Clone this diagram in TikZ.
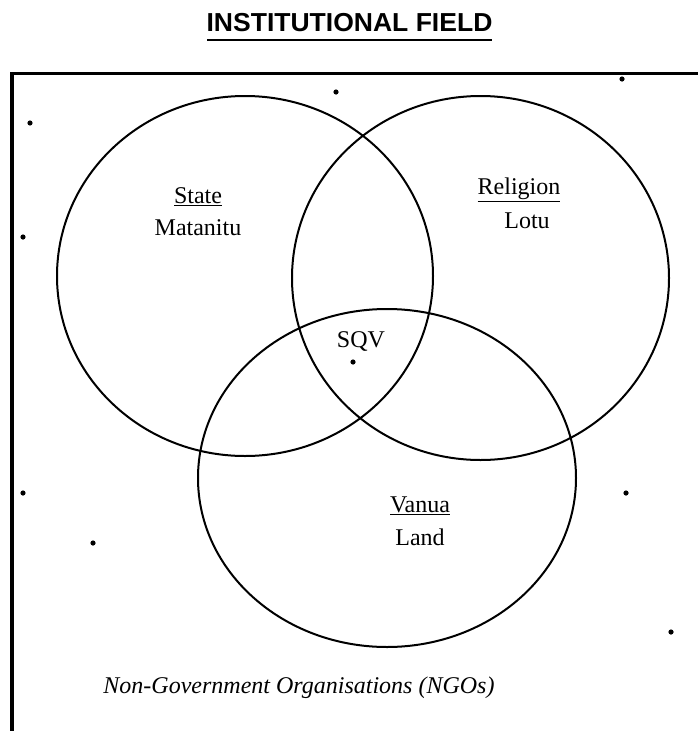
\documentclass[tikz,border=0pt]{standalone}
\usepackage{fontspec}
\setmainfont{Liberation Serif}
\newfontfamily\headfont{Liberation Sans}
\begin{document}
\begin{tikzpicture}[x=1pt,y=-1pt,
  field/.style={draw=black,line width=2pt},
  frameline/.style={draw=black,line width=3.8pt},
  lbl/.style={inner sep=0pt,font=\fontsize{24}{28}\selectfont},
  spot/.style={fill=black}]
\useasboundingbox (0,0) rectangle (698,731);

% title
\node[inner sep=0pt,xscale=1.02,font=\headfont\bfseries\fontsize{26}{30}\selectfont] (title) at (349.5,23) {INSTITUTIONAL FIELD};
\draw[line width=2pt] (207,40) -- (492,40);

% outer frame (top and left edges)
\coordinate (corner) at (12,73.5);
\coordinate (topend) at (698,73.5);
\coordinate (leftend) at (12,731);
\draw[frameline,line cap=rect] (topend) -- (corner) -- (leftend);

% the three spheres
\coordinate (cState) at (245,276);
\coordinate (cReligion) at (480.5,278);
\coordinate (cVanua) at (387,478);
\draw[field] (cState) ellipse [x radius=188, y radius=180];
\draw[field] (cReligion) ellipse [x radius=188.5, y radius=182];
\draw[field] (cVanua) ellipse [x radius=189, y radius=169];

% labels
\node[lbl] (state) at (198,197) {\underline{State}};
\node[lbl] (matanitu) at (198,228) {Matanitu};
\node[lbl] (religion) at (519,190) {\underline{Religion}};
\node[lbl] (lotu) at (527,221) {Lotu};
\node[lbl] (sqv) at (361,341) {SQV};
\node[lbl] (vanua) at (420,506) {\underline{Vanua}};
\node[lbl] (land) at (420,537) {Land};
\node[lbl,font=\itshape\fontsize{24}{28}\selectfont] (ngo) at (299,688) {Non-Government Organisations (NGOs)};

% scattered points
\foreach \p in {(30,123),(336,92),(622,79),(23,237),(353,362),(23,493),(93,543),(626,493),(671,632)}
  \fill[spot] \p circle (2.6);
\end{tikzpicture}
\end{document}
